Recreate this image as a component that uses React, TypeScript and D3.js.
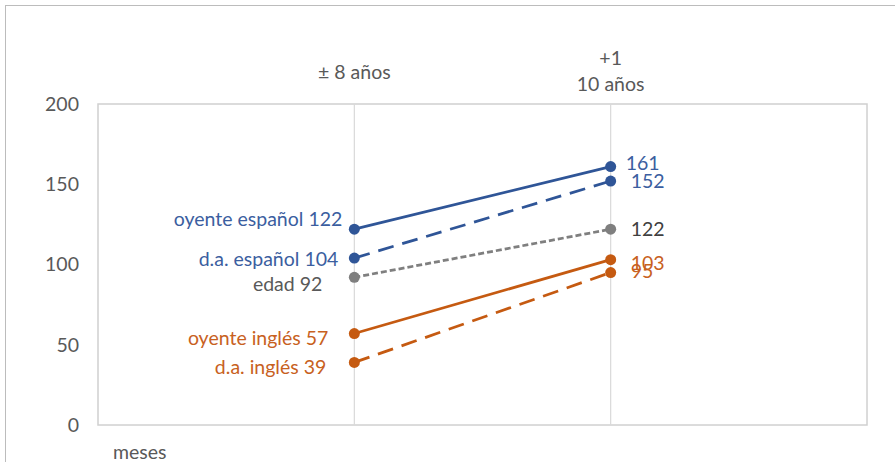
import React from "react";
import * as d3 from "d3";

const W = 895;
const H = 462;

const categories = ["meses", "± 8 años", "+1\n10 años"];
const seriesNames = ["oyente español", "d.a. español", "edad", "oyente inglés", "d.a. inglés"];
const startValues = [122, 104, 92, 57, 39];
const endValues = [161, 152, 122, 103, 95];
const yTicks = [0, 50, 100, 150, 200];

const lineColors = ["#2f5597", "#2f5597", "#7f7f7f", "#c55a11", "#c55a11"];
const textColors = ["#3b5ea0", "#3b5ea0", "#595959", "#c8611e", "#c8611e"];
const dashes = [null, "16,9", "6,3", null, "16,9"];
// label offsets relative to the point
const leftDx = [-12, -16, -32, -26, -28];
const leftDy = [-10, 1, 7, 4.5, 5];
const rightDx = [15, 20, 20, 20, 20];
const rightDy = [-3, 0, 0, 3, -1];

export default function App() {
  const left = 98, right = 867, top = 104, bottom = 425;
  const x = d3.scaleLinear().domain([0, 3]).range([left, right]);
  const y = d3.scaleLinear().domain([0, 200]).range([bottom, top]);
  const font = "Lato, 'Open Sans', sans-serif";
  const fs = 19.5;
  const line = d3.line<[number, number]>().x((d) => x(d[0])).y((d) => y(d[1]));

  return (
    <svg width={W} height={H} style={{ position: "absolute", left: 0, top: 0, background: "#fff" }} fontFamily={font}>
      <rect x={5.5} y={5.5} width={W + 10} height={H + 10} fill="#fff" stroke="#bcbcbc" strokeWidth={1} />
      <rect x={left} y={top} width={right - left} height={bottom - top} fill="none" stroke="#d0d0d0" strokeWidth={1.5} />
      {[1, 2].map((i) => (
        <line key={i} x1={x(i)} x2={x(i)} y1={top} y2={bottom} stroke="#d9d9d9" strokeWidth={1.2} />
      ))}
      {yTicks.map((t) => (
        <text key={t} x={79} y={y(t)} dy="0.35em" textAnchor="end" fontSize={fs} fill="#595959">
          {t}
        </text>
      ))}
      <text x={113} y={452} dy="0.35em" fontSize={fs} fill="#595959">{categories[0]}</text>
      <text x={x(1)} y={72} dy="0.35em" textAnchor="middle" fontSize={fs} fill="#595959">{categories[1]}</text>
      {categories[2].split("\n").map((s, i) => (
        <text key={i} x={x(2)} y={58 + i * 26} dy="0.35em" textAnchor="middle" fontSize={fs} fill="#595959">
          {s}
        </text>
      ))}
      {seriesNames.map((name, i) => (
        <g key={name}>
          <path
            d={line([[1, startValues[i]], [2, endValues[i]]]) || ""}
            fill="none"
            stroke={lineColors[i]}
            strokeWidth={2.75}
            strokeDasharray={dashes[i] || undefined}
          />
          <circle cx={x(1)} cy={y(startValues[i])} r={5.5} fill={lineColors[i]} />
          <circle cx={x(2)} cy={y(endValues[i])} r={5.5} fill={lineColors[i]} />
          <text
            x={x(1) + leftDx[i]}
            y={y(startValues[i]) + leftDy[i]}
            dy="0.35em"
            textAnchor="end"
            fontSize={fs}
            fill={textColors[i]}
          >
            {`${name} ${startValues[i]}`}
          </text>
          <text
            x={x(2) + rightDx[i]}
            y={y(endValues[i]) + rightDy[i]}
            dy="0.35em"
            fontSize={fs}
            fill={i === 2 ? "#404040" : textColors[i]}
          >
            {endValues[i]}
          </text>
        </g>
      ))}
    </svg>
  );
}
